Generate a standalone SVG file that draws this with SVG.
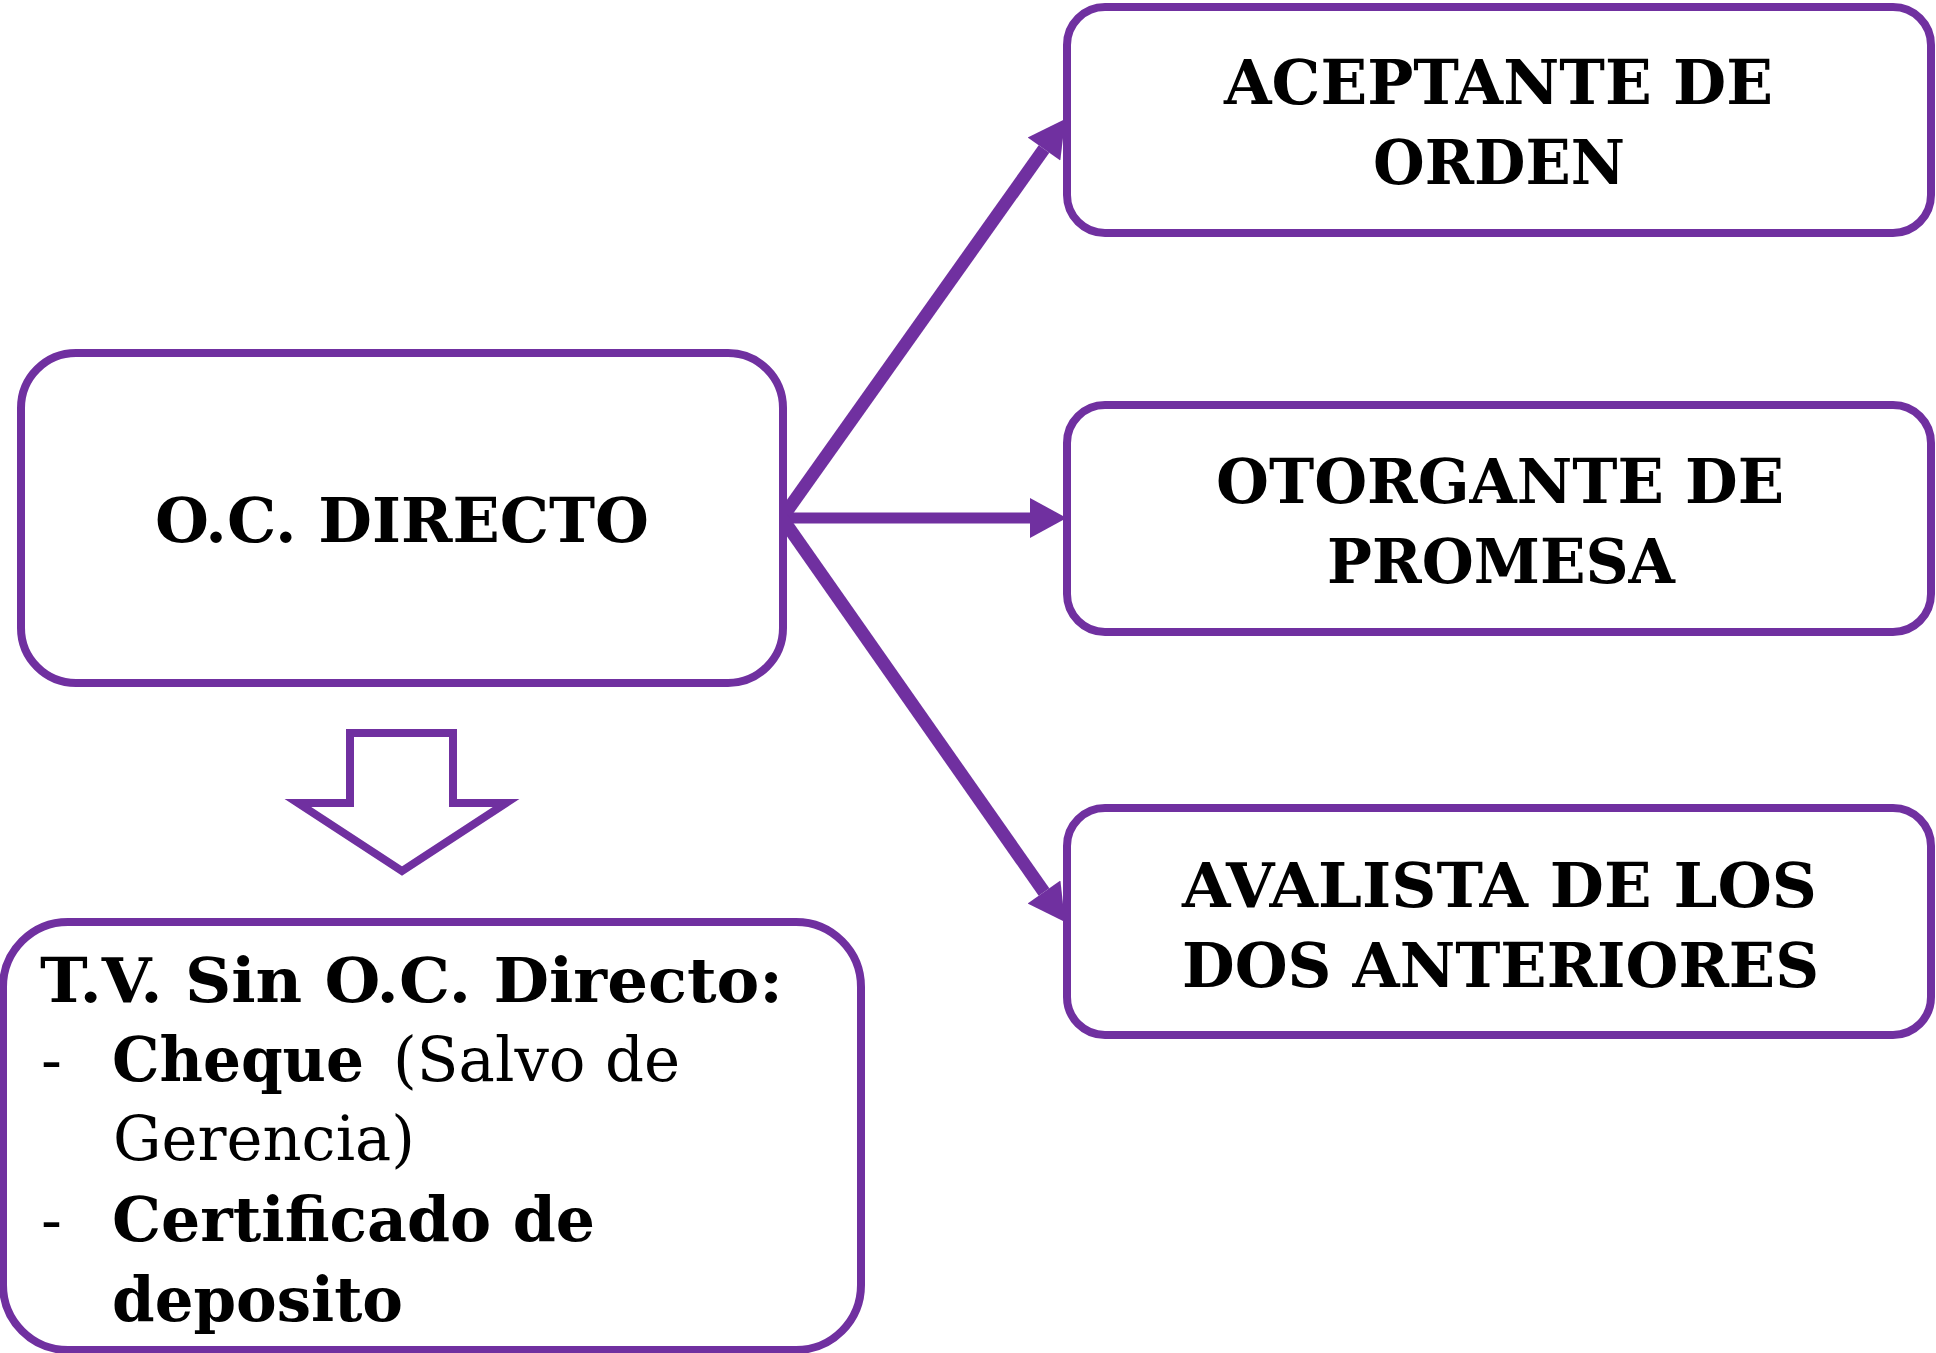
<svg xmlns="http://www.w3.org/2000/svg" width="1936" height="1353" viewBox="0 0 1936 1353">
  <style>
    .box { fill: #ffffff; stroke: #7030A0; stroke-width: 8; }
    .b { font-family: "DejaVu Serif", "Liberation Serif", serif; font-weight: bold; font-size: 62px; fill: #000000; }
    .r { font-family: "DejaVu Serif", "Liberation Serif", serif; font-weight: normal; font-size: 62px; fill: #000000; }
    .conn { fill: none; stroke: #7030A0; }
  </style>
  <defs>
    <marker id="head" markerUnits="userSpaceOnUse" markerWidth="40" markerHeight="40" refX="0" refY="18" orient="auto" viewBox="0 0 34 36">
      <path d="M0,0 L33,18 L0,36 Z" fill="#7030A0"/>
    </marker>
  </defs>
  <rect width="1936" height="1353" fill="#ffffff"/>

  <g id="connectors">
    <line class="conn" x1="782" y1="518" x2="1044" y2="149" stroke-width="13" marker-end="url(#head)"/>
    <line class="conn" x1="782" y1="518" x2="1030" y2="518" stroke-width="11" marker-end="url(#head)"/>
    <line class="conn" x1="782" y1="518" x2="1044" y2="892" stroke-width="13" marker-end="url(#head)"/>
  </g>

  <g id="node-oc-directo">
    <rect class="box" x="21" y="353" width="762" height="330" rx="55" ry="55"/>
    <text class="b" x="155" y="542" textLength="494" lengthAdjust="spacingAndGlyphs">O.C. DIRECTO</text>
  </g>

  <g id="node-aceptante">
    <rect class="box" x="1067" y="7" width="864" height="226" rx="38" ry="38"/>
    <text class="b" x="1224" y="104" textLength="549" lengthAdjust="spacingAndGlyphs">ACEPTANTE DE</text>
    <text class="b" x="1373" y="184" textLength="252" lengthAdjust="spacingAndGlyphs">ORDEN</text>
  </g>

  <g id="node-otorgante">
    <rect class="box" x="1067" y="405" width="864" height="227" rx="38" ry="38"/>
    <text class="b" x="1216" y="503" textLength="568" lengthAdjust="spacingAndGlyphs">OTORGANTE DE</text>
    <text class="b" x="1327" y="583" textLength="348" lengthAdjust="spacingAndGlyphs">PROMESA</text>
  </g>

  <g id="node-avalista">
    <rect class="box" x="1067" y="808" width="864" height="227" rx="38" ry="38"/>
    <text class="b" x="1182" y="907" textLength="635" lengthAdjust="spacingAndGlyphs">AVALISTA DE LOS</text>
    <text class="b" x="1182" y="987" textLength="637" lengthAdjust="spacingAndGlyphs">DOS ANTERIORES</text>
  </g>

  <g id="block-arrow-down">
    <polygon class="box" points="350,733 453,733 453,803 506,803 402,871 298,803 350,803"/>
  </g>

  <g id="node-tv-sin-oc">
    <rect class="box" x="3" y="922" width="858" height="428" rx="65" ry="65"/>
    <text class="b" x="40" y="1002" textLength="743" lengthAdjust="spacingAndGlyphs">T.V. Sin O.C. Directo:</text>
    <text class="r" x="41" y="1081">-</text>
    <text class="b" x="112" y="1081" textLength="252" lengthAdjust="spacingAndGlyphs">Cheque</text>
    <text class="r" x="393" y="1081" textLength="287" lengthAdjust="spacingAndGlyphs">(Salvo de</text>
    <text class="r" x="113" y="1160" textLength="302" lengthAdjust="spacingAndGlyphs">Gerencia)</text>
    <text class="r" x="41" y="1241">-</text>
    <text class="b" x="112" y="1241" textLength="483" lengthAdjust="spacingAndGlyphs">Certificado de</text>
    <text class="b" x="112" y="1321" textLength="291" lengthAdjust="spacingAndGlyphs">deposito</text>
  </g>
</svg>
